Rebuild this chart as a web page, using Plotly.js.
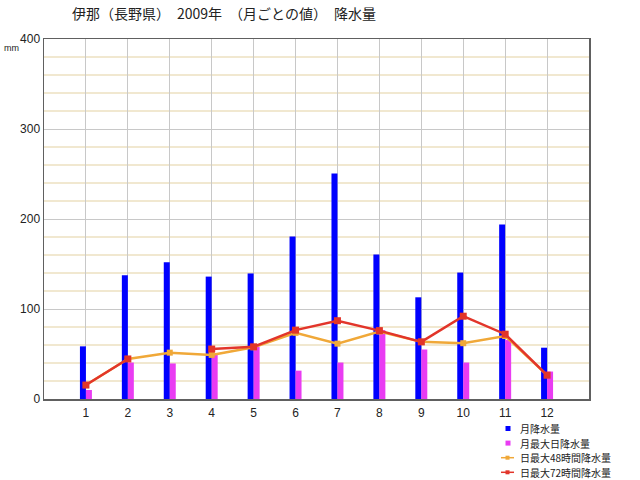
<!DOCTYPE html>
<html>
<head>
<meta charset="utf-8">
<script src="https://cdn.plot.ly/plotly-3.0.1.min.js"></script>
<style>
  html, body { margin: 0; padding: 0; background: #fff; }
  #chart { width: 640px; height: 480px; }
</style>
</head>
<body>
<div id="chart"></div>
<script>
var CHART = document.getElementById('chart');

// 伊那 2009年 月ごとの値 (mm)
var months = [1, 2, 3, 4, 5, 6, 7, 8, 9, 10, 11, 12];
var monthLabels = ['1', '2', '3', '4', '5', '6', '7', '8', '9', '10', '11', '12'];
var monthly = [58.5, 137.5, 152, 136, 139.5, 180.5, 250.5, 160.5, 113, 140.5, 194, 57];
var dailyMax = [10, 40.5, 39.5, 49, 58, 31.5, 40.5, 76.5, 55, 40.5, 65.5, 30.5];
var max48h = [15.5, 44.5, 51.5, 49, 57.5, 73.5, 61.5, 75, 63.5, 62, 70, 26.5];
var max72h = [15.5, 44.5, null, 55.5, 58, 76.5, 87, 76, 63.5, 92, 72, 26.5];

var seriesNames = ['月降水量', '月最大日降水量', '日最大48時間降水量', '日最大72時間降水量'];
var seriesColors = ['#0000ff', '#e93cf2', '#f0a838', '#e2352a'];

var FONT = '"Noto Sans CJK JP", "Noto Sans", sans-serif';
var TICK_FONT = '"Liberation Sans", Arial, sans-serif';
var BAR_W = 0.143;

// plot area in pixels, used to place the hand-made legend
var PL = 44, PR = 589, PT = 39, PB = 399;
function px(x) { return (x - PL) / (PR - PL); }
function py(y) { return (PB - y) / (PB - PT); }

var trace1 = {x: months,
              y: monthly,
              type: 'bar',
              name: seriesNames[0],
              width: BAR_W,
              offset: -BAR_W,
              marker: {color: seriesColors[0], line: {width: 0}}
             };

var trace2 = {x: months,
              y: dailyMax,
              type: 'bar',
              name: seriesNames[1],
              width: BAR_W,
              offset: 0,
              marker: {color: seriesColors[1], line: {width: 0}}
             };

var trace3 = {x: months,
              y: max48h,
              type: 'scatter',
              mode: 'lines+markers',
              name: seriesNames[2],
              line: {color: seriesColors[2], width: 2.5},
              marker: {color: seriesColors[2], size: 6, symbol: 'square'}
             };

var trace4 = {x: months,
              y: max72h,
              type: 'scatter',
              mode: 'lines+markers',
              name: seriesNames[3],
              connectgaps: false,
              line: {color: seriesColors[3], width: 2.5},
              marker: {color: seriesColors[3], size: 7, symbol: 'square'}
             };

var data = [trace1, trace2, trace3, trace4];

// legend drawn by hand: plotly's rows are too tall for this one
var LEG_SIZE = 10;
var LEG_STEP = 14.6;
var LEG_TOP = 428.5;
var shapes = [];
var annotations = [];
seriesNames.forEach(function (name, i) {
    var yc = LEG_TOP + i * LEG_STEP;
    if (i < 2) {
        shapes.push({type: 'rect', xref: 'paper', yref: 'paper',
                     x0: px(505.5), x1: px(510.5), y0: py(yc + 2.5), y1: py(yc - 2.5),
                     fillcolor: seriesColors[i], line: {width: 0}});
    } else {
        shapes.push({type: 'line', xref: 'paper', yref: 'paper',
                     x0: px(501), x1: px(514), y0: py(yc), y1: py(yc),
                     line: {color: seriesColors[i], width: 1.5}});
        shapes.push({type: 'rect', xref: 'paper', yref: 'paper',
                     x0: px(505.5), x1: px(509.5), y0: py(yc + 2), y1: py(yc - 2),
                     fillcolor: seriesColors[i], line: {width: 0}});
    }
    annotations.push({text: name, xref: 'paper', yref: 'paper',
                      x: px(519), y: py(yc), xanchor: 'left', yanchor: 'middle',
                      showarrow: false, borderpad: 0,
                      font: {family: FONT, size: LEG_SIZE, color: '#222'}});
});

annotations.push({text: 'mm', xref: 'paper', yref: 'paper',
                  x: px(11), y: py(48), xanchor: 'center', yanchor: 'middle',
                  showarrow: false, font: {family: TICK_FONT, size: 9, color: '#222'}});

var layout = {width: 640,
              height: 480,
              paper_bgcolor: '#ffffff',
              plot_bgcolor: '#ffffff',
              font: {family: FONT, size: 12, color: '#222'},
              title: {text: '伊那（長野県）　2009年　（月ごとの値）　降水量',
                      font: {family: FONT, size: 14, color: '#222'},
                      x: 224 / 640, xanchor: 'center', xref: 'container',
                      y: 1 - 14 / 480, yanchor: 'middle', yref: 'container'},
              barmode: 'overlay',
              showlegend: false,
              margin: {l: PL, r: 640 - PR, t: PT, b: 480 - PB, autoexpand: false},
              xaxis: {range: [0, 13],
                      tickvals: months,
                      ticktext: monthLabels,
                      showgrid: true,
                      gridcolor: '#c8c8c8',
                      gridwidth: 1,
                      zeroline: false,
                      showline: true,
                      linecolor: '#606060',
                      linewidth: 1.5,
                      mirror: true,
                      ticks: '',
                      ticklabelstandoff: 2,
                      tickfont: {family: TICK_FONT, size: 12, color: '#222'}},
              yaxis: {range: [0, 400],
                      dtick: 100,
                      showgrid: true,
                      gridcolor: '#c8c8c8',
                      gridwidth: 1,
                      minor: {dtick: 20, showgrid: true, gridcolor: '#f1e8d0', gridwidth: 2},
                      zeroline: false,
                      showline: true,
                      linecolor: '#606060',
                      linewidth: 1.5,
                      mirror: true,
                      ticks: '',
                      tickfont: {family: TICK_FONT, size: 12, color: '#222'}},
              shapes: shapes,
              annotations: annotations
             };

var config = {displayModeBar: false, responsive: false, staticPlot: true};

Plotly.newPlot(CHART, data, layout, config);
</script>
</body>
</html>
